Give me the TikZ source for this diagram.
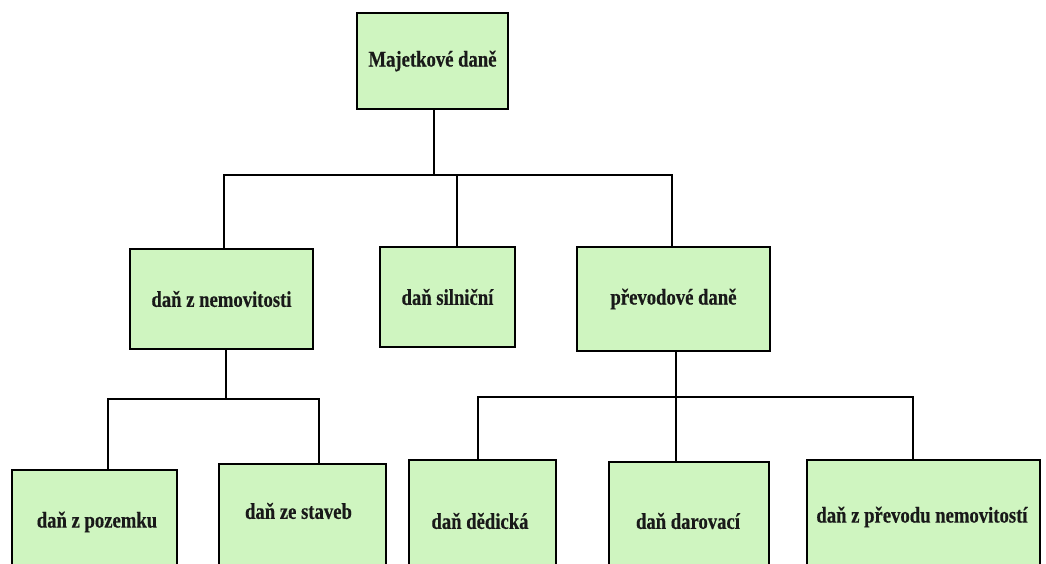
\documentclass[tikz,border=0pt]{standalone}
\usepackage{fontspec}
\newfontfamily\boxfont[FakeStretch=0.83,FakeBold=0.4]{Liberation Serif}
\definecolor{boxfill}{RGB}{207,245,192}
\definecolor{txt}{RGB}{25,25,25}
\begin{document}
\begin{tikzpicture}[x=1pt,y=-1pt,
  box/.style={draw=black,line width=1.6pt,fill=boxfill,rectangle,inner sep=0pt},
  lbl/.style={font=\boxfont\bfseries\fontsize{22.5}{24}\selectfont,text=txt,inner sep=0pt},
  conn/.style={draw=black,line width=1.5pt}]
\useasboundingbox (0,0) rectangle (1046,563);
\fill[white] (0,0) rectangle (1046,563);
\begin{scope}
\clip (0,0) rectangle (1046,563);
% level 0
\node[box,minimum width=151,minimum height=96] (top) at (432.5,61) {};
\node[lbl] (topt) at (top.center) {Majetkové daně};
% level 1
\node[box,minimum width=183,minimum height=100] (nem) at (221.5,299) {};
\node[lbl] (nemt) at (nem.center) {daň z nemovitosti};
\node[box,minimum width=135,minimum height=100] (sil) at (447.5,297) {};
\node[lbl] (silt) at (sil.center) {daň silniční};
\node[box,minimum width=193,minimum height=104] (prev) at (673.5,299) {};
\node[lbl] (prevt) at (prev.center) {převodové daně};
% level 2
\node[box,minimum width=165,minimum height=150] (poz) at (94.5,545) {};
\node[lbl] (pozt) at (97,522) {daň z pozemku};
\node[box,minimum width=167,minimum height=150] (stav) at (302.5,539) {};
\node[lbl] (stavt) at (298.5,511) {daň ze staveb};
\node[box,minimum width=147,minimum height=150] (ded) at (482.5,535) {};
\node[lbl] (dedt) at (480,521) {daň dědická};
\node[box,minimum width=160,minimum height=150] (dar) at (689,537) {};
\node[lbl] (dart) at (688,521) {daň darovací};
\node[box,minimum width=233,minimum height=150] (prevod) at (923.5,535) {};
\node[lbl] (prevodt) at (922,517) {daň z převodu nemovitostí};
\end{scope}
% connectors
\coordinate (j1) at (434,175);
\coordinate (j2) at (226,399);
\coordinate (j3) at (676,397);
\draw[conn] ([xshift=1.5pt]top.south) -- ([xshift=1.5pt]top.south |- j1);
\draw[conn] ([xshift=2.5pt]nem.north) |- (j1) -| ([xshift=-1.5pt]prev.north);
\draw[conn] ([xshift=9.5pt]sil.north) -- ([xshift=9.5pt]sil.north |- j1);
\draw[conn] ([xshift=4.5pt]nem.south) -- (j2);
\draw[conn] ([xshift=13.5pt]poz.north) |- (j2) -| ([xshift=16.5pt]stav.north);
\draw[conn] ([xshift=2.5pt]prev.south) -- (j3);
\draw[conn] ([xshift=-4.5pt]ded.north) |- (j3) -| ([xshift=-10.5pt]prevod.north);
\draw[conn] (j3) -- ([xshift=-13pt]dar.north);
\end{tikzpicture}
\end{document}
